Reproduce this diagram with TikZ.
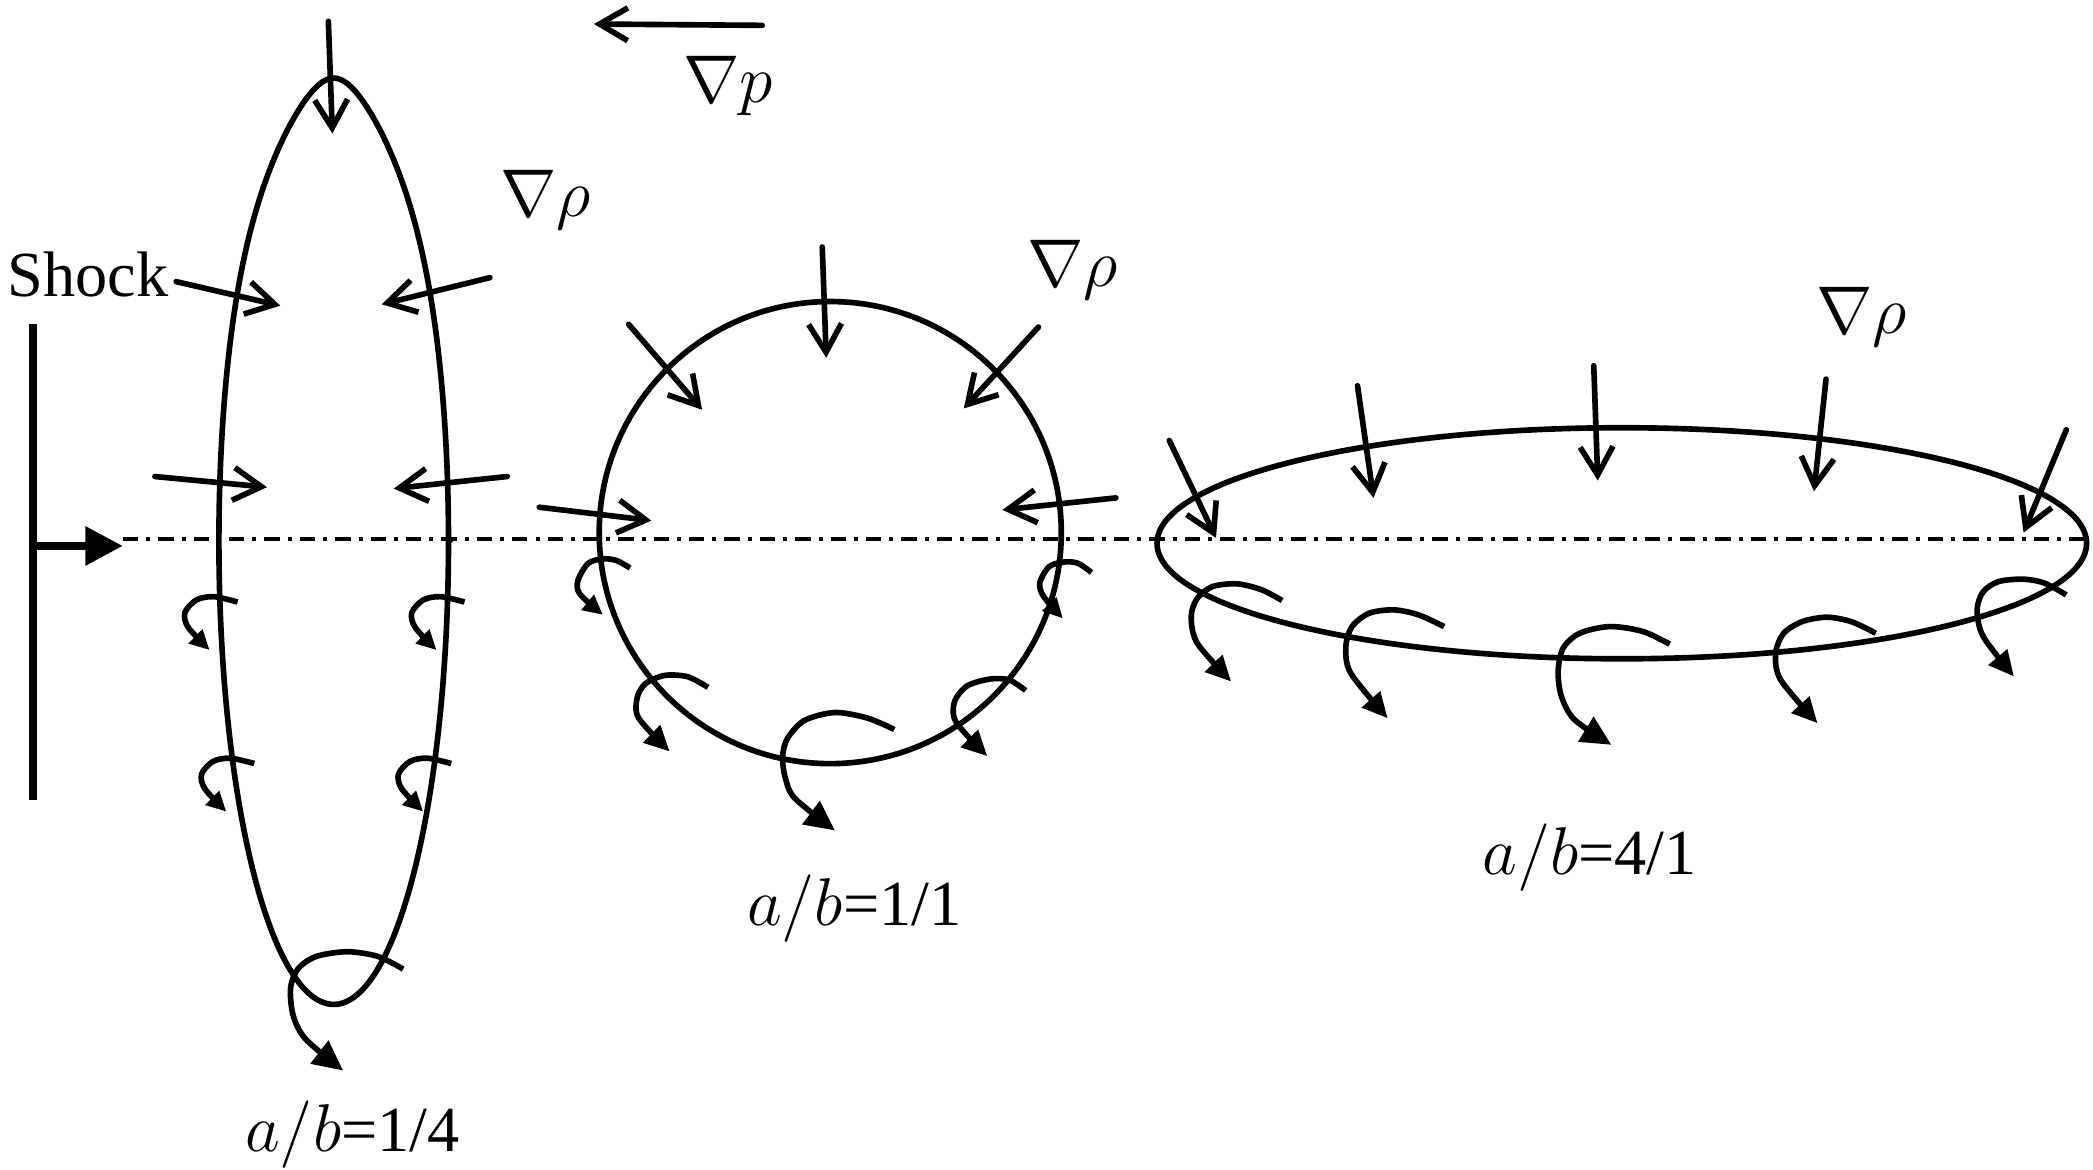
\documentclass[tikz,border=0pt]{standalone}
\usepackage{fontspec}
\setmainfont{Liberation Serif}
\usetikzlibrary{arrows.meta}
\tikzset{
  outline/.style={line width=1.2pt},
  grad/.style={line width=1.2pt, line cap=round, -{Straight Barb[length=6pt,width=7pt]}},
  curlS/.style={line width=1.2pt, -{Triangle[length=4.2pt,width=4pt]}},
  curlM/.style={line width=1.2pt, -{Triangle[length=5.4pt,width=5pt]}},
  curlL/.style={line width=1.2pt, -{Triangle[length=6.4pt,width=6pt]}},
  axisline/.style={line width=0.8pt, dash pattern=on 1.15mm off 0.6mm on 0.3mm off 0.6mm},
  shockline/.style={line width=1.7pt},
  lbl/.style={inner sep=0pt, anchor=base west, font=\fontsize{13.7}{16}\selectfont}
}
\begin{document}
\begin{tikzpicture}[x=0.01cm,y=-0.01cm]
\useasboundingbox[fill=white] (0,0) rectangle (1568,876);

% axis
\draw[axisline] (92,404) -- (1564,404);

% shock
\draw[shockline] (25,243) -- (25,599);
\draw[shockline, -{Triangle[length=8pt,width=8pt]}] (25,409) -- (92,409);
\node[lbl] (shock) at (5,222) {Shock};

% bodies
\draw[outline] plot[domain=0:360, samples=240, smooth cycle, variable=\t]
  ({250+86*cos(\t)*(1-0.25*(max(sin(\t),0))^6)}, {405.5-347*sin(\t)});
\draw[outline] (622,399) circle [radius=1.73cm];
\draw[outline] (1215,407) ellipse [x radius=3.48cm, y radius=0.865cm];

% pressure gradient
\draw[grad] (571,19) -- (445,18);
\node[lbl] (gp) at (511,77) {$\nabla p$};

% density gradient labels
\node[lbl] (gr1) at (374,162) {$\nabla\rho$};
\node[lbl] (gr2) at (769,215) {$\nabla\rho$};
\node[lbl] (gr3) at (1360,250) {$\nabla\rho$};

% left ellipse gradient arrows
\draw[grad] (246,16) -- (249,100);
\draw[grad] (132,211) -- (210,229);
\draw[grad] (367,208) -- (286,228);
\draw[grad] (116,357) -- (200,365);
\draw[grad] (380,357) -- (295,366);

% circle gradient arrows
\draw[grad] (616,185) -- (619,268);
\draw[grad] (471,243) -- (526,307);
\draw[grad] (778,245) -- (722,306);
\draw[grad] (404,380) -- (488,390);
\draw[grad] (836,373) -- (751,382);

% right ellipse gradient arrows
\draw[grad] (876,330) -- (911,403);
\draw[grad] (1017,289) -- (1029,373);
\draw[grad] (1194,274) -- (1197,360);
\draw[grad] (1368,284) -- (1359,368);
\draw[grad] (1548,322) -- (1516,399);

% left ellipse vortices
\draw[curlS] plot[smooth] coordinates {(178,451) (160,447) (147,449.5) (138.5,459) (141,470) (157,487)};
\draw[curlS, shift={(170,0)}] plot[smooth] coordinates {(178,451) (160,447) (147,449.5) (138.5,459) (141,470) (157,487)};
\draw[curlS, shift={(12.5,121)}] plot[smooth] coordinates {(178,451) (160,447) (147,449.5) (138.5,459) (141,470) (157,487)};
\draw[curlS, shift={(160,121)}] plot[smooth] coordinates {(178,451) (160,447) (147,449.5) (138.5,459) (141,470) (157,487)};
\draw[curlL] plot[smooth] coordinates {(302,726) (283,716.5) (260,713) (237,716.5) (223.5,725.5) (217.7,740) (219.7,761) (229.2,778.7) (257,802)};

% circle vortices
\draw[curlS] plot[smooth] coordinates {(472,425.5) (462,420) (452,418.6) (440.7,422) (433,434.8) (434.4,445) (451.6,460.6)};
\draw[curlS] plot[smooth] coordinates {(817.7,428.9) (807.6,422) (797.6,421) (786.1,424.4) (779,436.5) (781.8,446.8) (796.2,463.3)};
\draw[curlM] plot[smooth] coordinates {(530.4,514.9) (515.2,507) (498,506) (483.7,512.1) (477.4,522.5) (478.5,538) (501.7,563)};
\draw[curlM] plot[smooth] coordinates {(768.4,517.3) (756,509.4) (741.7,508.7) (724.5,513.9) (715,525.9) (716.5,541.4) (739.7,566.5)};
\draw[curlL] plot[smooth] coordinates {(670,546.5) (650,538) (625.6,533.8) (602.7,539.7) (589.8,553.4) (586.3,567.2) (588.3,582.6) (595.5,598.1) (625.6,622.2)};

% right ellipse vortices
\draw[curlM] plot[smooth] coordinates {(960.5,449.9) (945.3,441.9) (926.9,437.4) (908.5,439.4) (897,448.2) (892.4,461.9) (897,481.9) (922.3,510.6)};
\draw[curlM] plot[smooth] coordinates {(1081.9,469.4) (1062.6,460.6) (1044.2,456.9) (1025.8,459.4) (1012.9,469.4) (1008.3,484.4) (1012,504.4) (1039.6,538.1)};
\draw[curlL] plot[smooth] coordinates {(1250.9,482.6) (1230.9,473.1) (1206,469.4) (1183.5,474.4) (1171,485.6) (1167.3,503.1) (1169.8,521.8) (1179.7,539.3) (1207.2,558)};
\draw[curlM] plot[smooth] coordinates {(1405.3,474.4) (1386.9,465.7) (1368.5,462.4) (1350.1,465.7) (1336.3,474.4) (1330.3,489.4) (1334,509.3) (1361.6,541.8)};
\draw[curlM] plot[smooth] coordinates {(1547.9,445.7) (1531.8,436.9) (1515.7,433.9) (1497.3,435.7) (1485.8,443.2) (1481.2,456.9) (1485.8,476.9) (1508.8,506.8)};

% aspect ratio labels
\node[lbl] (r1) at (183,863) {$a/b$=1/4};
\node[lbl] (r2) at (559,693) {$a/b$=1/1};
\node[lbl] (r3) at (1110,655) {$a/b$=4/1};
\end{tikzpicture}
\end{document}
